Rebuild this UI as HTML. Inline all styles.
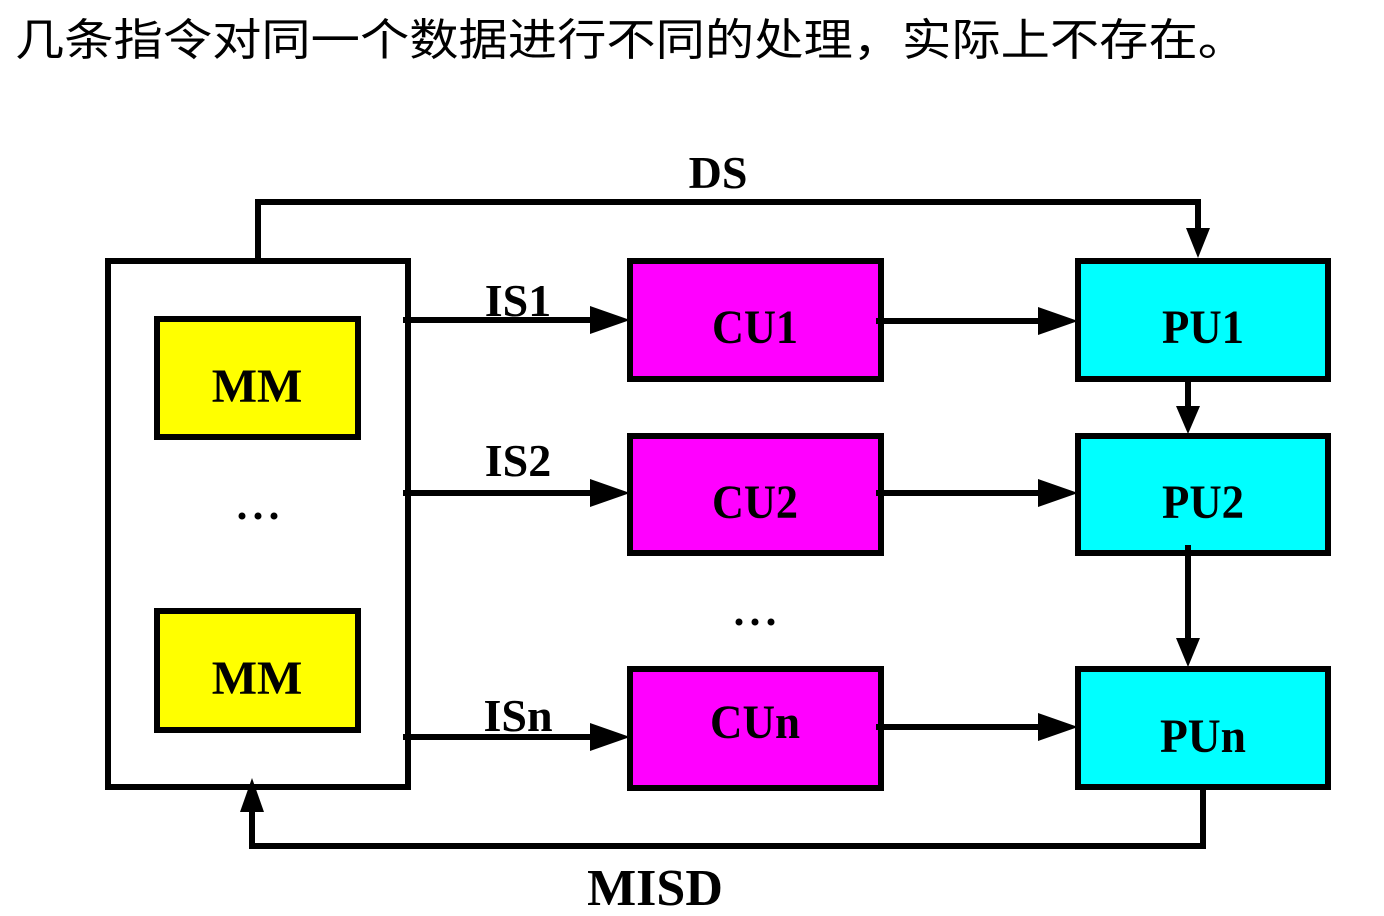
<!DOCTYPE html>
<html><head><meta charset="utf-8"><style>
html,body{margin:0;padding:0;background:#fff;width:1384px;height:916px;overflow:hidden}
</style></head><body>
<svg width="1384" height="916" viewBox="0 0 1384 916" xmlns="http://www.w3.org/2000/svg">
<text x="15" y="55" font-family="'Liberation Sans','Noto Sans CJK SC',sans-serif" font-size="44" textLength="1232" lengthAdjust="spacingAndGlyphs">几条指令对同一个数据进行不同的处理，实际上不存在。</text>
<g stroke="#000" stroke-width="6" fill="none">
<rect x="108" y="261" width="300" height="526" fill="#fff"/>
<rect x="157" y="319" width="201" height="118" fill="#ffff00"/>
<rect x="157" y="611" width="201" height="119" fill="#ffff00"/>
<rect x="630" y="261" width="251" height="118" fill="#ff00ff"/>
<rect x="630" y="436" width="251" height="117" fill="#ff00ff"/>
<rect x="630" y="669" width="251" height="119" fill="#ff00ff"/>
<rect x="1078" y="261" width="250" height="118" fill="#00ffff"/>
<rect x="1078" y="436" width="250" height="117" fill="#00ffff"/>
<rect x="1078" y="669" width="250" height="118" fill="#00ffff"/>
<polyline points="258,261 258,202 1198,202 1198,230"/>
<line x1="403" y1="320" x2="600" y2="320"/>
<line x1="403" y1="493" x2="600" y2="493"/>
<line x1="403" y1="737" x2="600" y2="737"/>
<line x1="876" y1="321" x2="1048" y2="321"/>
<line x1="876" y1="493" x2="1048" y2="493"/>
<line x1="876" y1="727" x2="1048" y2="727"/>
<line x1="1188" y1="379" x2="1188" y2="410"/>
<line x1="1188" y1="545" x2="1188" y2="640"/>
<polyline points="1203,787 1203,846 252,846 252,810"/>
</g>
<g fill="#000">
<path d="M1186,228 L1210,228 L1198,258 z"/>
<path d="M590,306 L630,320 L590,334 z"/>
<path d="M590,479 L630,493 L590,507 z"/>
<path d="M590,723 L630,737 L590,751 z"/>
<path d="M1038,307 L1078,321 L1038,335 z"/>
<path d="M1038,479 L1078,493 L1038,507 z"/>
<path d="M1038,713 L1078,727 L1038,741 z"/>
<path d="M1176,406 L1200,406 L1188,434 z"/>
<path d="M1176,638 L1200,638 L1188,667 z"/>
<path d="M240,812 L264,812 L252,778 z"/>
<circle cx="242" cy="516" r="3.5"/><circle cx="258" cy="516" r="3.5"/><circle cx="274" cy="516" r="3.5"/>
<circle cx="739" cy="622" r="3.5"/><circle cx="755" cy="622" r="3.5"/><circle cx="771" cy="622" r="3.5"/>
</g>
<g font-family="'Liberation Serif',serif" font-weight="bold" text-anchor="middle" fill="#000">
<text x="718" y="188" font-size="46">DS</text>
<text x="518" y="316" font-size="46">IS1</text>
<text x="518" y="476" font-size="46">IS2</text>
<text x="518" y="731" font-size="46">ISn</text>
<text x="257" y="402" font-size="48">MM</text>
<text x="257" y="694" font-size="48">MM</text>
<text x="755" y="343" font-size="48" textLength="86" lengthAdjust="spacingAndGlyphs">CU1</text>
<text x="755" y="518" font-size="48" textLength="86" lengthAdjust="spacingAndGlyphs">CU2</text>
<text x="755" y="738" font-size="48" textLength="90" lengthAdjust="spacingAndGlyphs">CUn</text>
<text x="1203" y="343" font-size="48" textLength="82" lengthAdjust="spacingAndGlyphs">PU1</text>
<text x="1203" y="518" font-size="48" textLength="82" lengthAdjust="spacingAndGlyphs">PU2</text>
<text x="1203" y="752" font-size="48" textLength="86" lengthAdjust="spacingAndGlyphs">PUn</text>
<text x="655" y="905" font-size="52">MISD</text>
</g>
</svg>
</body></html>
